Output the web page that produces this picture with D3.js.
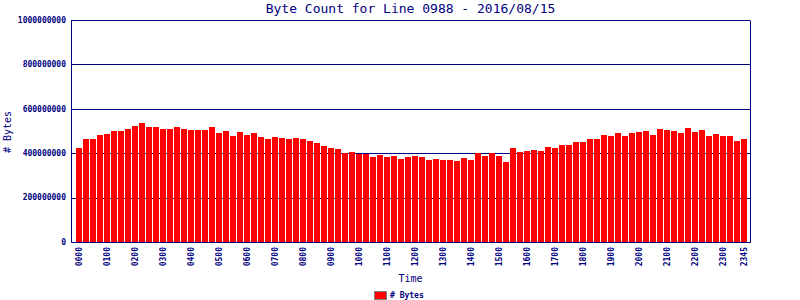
<!DOCTYPE html>
<html>
<head>
<meta charset="utf-8">
<script src="https://cdn.jsdelivr.net/npm/d3@7"></script>
<style>
  body { margin: 0; background: #fff; }
  svg { display: block; }
  text { font-family: "DejaVu Sans Mono", "Liberation Mono", monospace; fill: #000080; }
</style>
</head>
<body>
<svg id="chart" width="800" height="300"></svg>
<script>
// chart data
var title = "Byte Count for Line 0988 - 2016/08/15";
var yTitle = "# Bytes", xTitle = "Time", legendLabel = "# Bytes";

// one bar every 15 minutes
var times = [];
for (var h = 0; h < 24; h++) {
  ["00", "15", "30", "45"].forEach(function(m) { times.push((h < 10 ? "0" : "") + h + m); });
}

// bytes (millions)
var bytesM = [
  422, 463, 463, 481, 485, 499, 499, 508, 521, 535, 517, 517,
  508, 508, 517, 508, 503, 503, 503, 517, 490, 499, 476, 494,
  481, 490, 472, 463, 472, 467, 463, 467, 463, 454, 445, 431,
  422, 418, 400, 404, 397, 397, 382, 391, 382, 387, 373, 382,
  387, 382, 369, 373, 369, 369, 364, 378, 369, 399, 387, 399,
  387, 360, 422, 404, 409, 413, 409, 427, 422, 436, 436, 449,
  449, 463, 463, 481, 476, 490, 476, 490, 494, 499, 481, 508,
  503, 499, 490, 512, 494, 503, 476, 485, 476, 476, 454, 463
];

var yTicks = [0, 200000000, 400000000, 600000000, 800000000, 1000000000];
var xTickLabels = ["0000","0100","0200","0300","0400","0500","0600","0700","0800","0900","1000","1100",
                   "1200","1300","1400","1500","1600","1700","1800","1900","2000","2100","2200","2300","2345"];

var navy = "#000080", barColor = "#ff0000";
var plotLeft = 71, plotRight = 750, plotTop = 20, plotBottom = 242;

var svg = d3.select("#chart");

var x = d3.scaleBand()
    .domain(times)
    .range([75.5, 747.5])
    .paddingInner(1 / 7)
    .paddingOuter(1 / 14);

var y = d3.scaleLinear()
    .domain([0, 1000000000])
    .range([plotBottom, plotTop]);

var crisp = function(v) { return Math.round(v) + 0.5; };

// gridlines (behind bars)
svg.append("g").attr("class", "grid")
  .selectAll("line")
  .data(yTicks.slice(1))
  .enter().append("line")
    .attr("x1", plotLeft).attr("x2", plotRight)
    .attr("y1", function(d) { return crisp(y(d)); })
    .attr("y2", function(d) { return crisp(y(d)); })
    .style("stroke", navy);

// bars
svg.append("g").attr("class", "bars")
  .selectAll("rect")
  .data(bytesM)
  .enter().append("rect")
    .attr("x", function(d, i) { return x(times[i]); })
    .attr("width", x.bandwidth())
    .attr("y", function(d) { return Math.round(y(d * 1e6)); })
    .attr("height", function(d) { return plotBottom - Math.round(y(d * 1e6)); })
    .attr("shape-rendering", "crispEdges")
    .style("fill", barColor);

// frame
svg.append("path")
  .attr("d", "M" + crisp(plotLeft) + "," + crisp(plotTop) + "V" + crisp(plotBottom) +
             "H" + crisp(plotRight) + "V" + crisp(plotTop))
  .style("fill", "none")
  .style("stroke", navy);

// y tick labels
svg.append("g")
  .selectAll("text")
  .data(yTicks)
  .enter().append("text")
    .attr("x", 66)
    .attr("y", function(d) { return y(d); })
    .attr("dy", "0.35em")
    .attr("text-anchor", "end")
    .style("font-size", "8px")
    .style("font-weight", "bold")
    .text(function(d) { return d; });

// x tick labels, rotated
svg.append("g")
  .selectAll("text")
  .data(xTickLabels)
  .enter().append("text")
    .attr("transform", function(d) {
      return "translate(" + (x(d) + x.bandwidth() / 2) + ",247) rotate(-90)";
    })
    .attr("dy", "0.35em")
    .attr("text-anchor", "end")
    .style("font-size", "8px")
    .style("font-weight", "bold")
    .text(function(d) { return d; });

// titles
svg.append("text")
  .attr("x", (plotLeft + plotRight) / 2)
  .attr("y", 13)
  .attr("text-anchor", "middle")
  .style("font-size", "13px")
  .text(title);

svg.append("text")
  .attr("x", (plotLeft + plotRight) / 2)
  .attr("y", 282)
  .attr("text-anchor", "middle")
  .style("font-size", "10px")
  .text(xTitle);

svg.append("text")
  .attr("transform", "translate(11,132) rotate(-90)")
  .attr("text-anchor", "middle")
  .style("font-size", "10px")
  .text(yTitle);

// legend
var legend = svg.append("g").attr("transform", "translate(374,291)");
legend.append("rect")
  .attr("x", 0.5).attr("y", 0.5)
  .attr("width", 12).attr("height", 8)
  .style("fill", barColor)
  .style("stroke", "#808080");
legend.append("text")
  .attr("x", 16)
  .attr("y", 7)
  .style("font-size", "8px")
  .style("font-weight", "bold")
  .text(legendLabel);
</script>
</body>
</html>
